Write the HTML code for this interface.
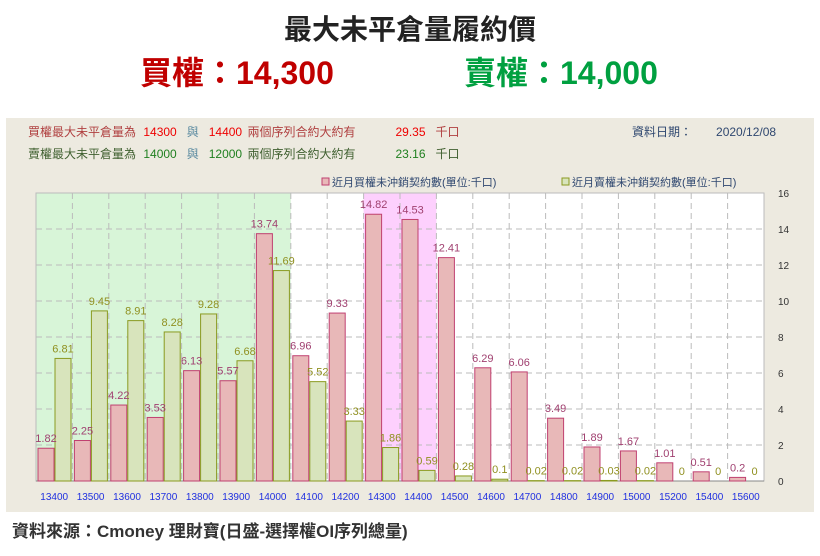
<!DOCTYPE html>
<html><head><meta charset="utf-8"><style>
body{margin:0;width:820px;height:556px;background:#fff;font-family:"Liberation Sans","Noto Sans CJK TC",sans-serif;overflow:hidden;position:relative}
.abs{position:absolute;white-space:nowrap}
</style></head><body>
<div class="abs" style="left:0;width:820px;text-align:center;top:8px;font-size:28px;font-weight:bold;color:#222">最大未平倉量履約價</div>
<div class="abs" style="left:140px;top:48px;font-size:32px;font-weight:bold;color:#c00000">買權：14,300</div>
<div class="abs" style="left:464px;top:48px;font-size:32px;font-weight:bold;color:#00a040">賣權：14,000</div>
<div class="abs" style="left:6px;top:118px;width:808px;height:394px;background:#edeae0"></div>
<div class="abs" style="left:28px;top:123px;font-size:12px;color:#b04040">買權最大未平倉量為 <span style="color:#e00;margin-left:4px">14300</span><span style="color:#5a8aa0;margin-left:10px">與</span><span style="color:#e00;margin-left:10px">14400</span> <span style="margin-left:2px">兩個序列合約大約有</span><span style="color:#e00;margin-left:40px">29.35</span><span style="margin-left:10px">千口</span></div>
<div class="abs" style="left:28px;top:145px;font-size:12px;color:#406030">賣權最大未平倉量為 <span style="color:#208020;margin-left:4px">14000</span><span style="color:#5a8aa0;margin-left:10px">與</span><span style="color:#208020;margin-left:10px">12000</span> <span style="margin-left:2px">兩個序列合約大約有</span><span style="color:#208020;margin-left:40px">23.16</span><span style="margin-left:10px">千口</span></div>
<div class="abs" style="left:632px;top:123px;font-size:12px;color:#304870">資料日期：<span style="margin-left:24px">2020/12/08</span></div>
<svg class="abs" style="left:0;top:0" width="820" height="556" id="chart"></svg>
<div class="abs" style="left:12px;top:517px;font-size:17px;font-weight:bold;color:#333">資料來源：Cmoney 理財寶(日盛-選擇權OI序列總量)</div>
<script>
const strikes=["13400","13500","13600","13700","13800","13900","14000","14100","14200","14300","14400","14500","14600","14700","14800","14900","15000","15200","15400","15600"];
const callOI=[1.82,2.25,4.22,3.53,6.13,5.57,13.74,6.96,9.33,14.82,14.53,12.41,6.29,6.06,3.49,1.89,1.67,1.01,0.51,0.2];
const putOI=[6.81,9.45,8.91,8.28,9.28,6.68,11.69,5.52,3.33,1.86,0.59,0.28,0.1,0.02,0.02,0.03,0.02,0,0,0];
const yTicks=[0,2,4,6,8,10,12,14,16];
const svg=document.getElementById('chart');const NS='http://www.w3.org/2000/svg';
const L=36,R=764,T=193,B=481,yMax=16;
const cw=(R-L)/strikes.length;
const y=v=>B-(v/yMax)*(B-T);
const xc=i=>L+i*cw;
function mk(t,a,p){const e=document.createElementNS(NS,t);for(const k in a)e.setAttribute(k,a[k]);(p||svg).appendChild(e);return e;}
mk('rect',{x:L,y:T,width:R-L,height:B-T,fill:'#fff'});
mk('rect',{x:xc(0),y:T,width:cw*7,height:B-T,fill:'#d8f5d8'});
mk('rect',{x:xc(9),y:T,width:cw*2,height:B-T,fill:'#fdd0fd'});
yTicks.forEach(t=>{
 if(t>0&&t<16){const g=mk('line',{x1:L,x2:R,y1:y(t),y2:y(t),stroke:'#bbb','stroke-dasharray':'6,4'});}
 const tx=mk('text',{x:778,y:y(t)+4,'font-size':10,fill:'#333'});tx.textContent=t;
 
});
for(let i=1;i<strikes.length;i++){mk('line',{x1:xc(i),x2:xc(i),y1:T,y2:B,stroke:'#bbb','stroke-dasharray':'6,4'});}
mk('rect',{x:L,y:T,width:R-L,height:B-T,fill:'none',stroke:'#bbb'});
mk('line',{x1:L,x2:R,y1:B,y2:B,stroke:'#888'});
strikes.forEach((s,i)=>{
 const x0=xc(i)+2;
 const cb=mk('rect',{x:x0,y:y(callOI[i]),width:16,height:B-y(callOI[i]),fill:'#e8b8b8',stroke:'#c04070','stroke-width':1});
 
 const pb=mk('rect',{x:x0+17,y:y(putOI[i]),width:16,height:B-y(putOI[i]),fill:'#d8e4bc',stroke:'#8a9a20','stroke-width':1});
 
 const cl=mk('text',{x:x0+8,y:y(callOI[i])-6,'font-size':11,fill:'#a04070','text-anchor':'middle'});cl.textContent=callOI[i];
 
 const pl=mk('text',{x:x0+25,y:y(putOI[i])-6,'font-size':11,fill:'#909020','text-anchor':'middle'});pl.textContent=putOI[i];
 
 const xl=mk('text',{x:xc(i)+cw/2,y:500,'font-size':10,fill:'#2030e0','text-anchor':'middle'});xl.textContent=s;
 
});
const lg1=mk('g',{});
mk('rect',{x:322,y:178,width:7,height:7,fill:'#e8b8b8',stroke:'#c04070'},lg1);
const t1=mk('text',{x:332,y:186,'font-size':11,fill:'#304870'},lg1);t1.textContent='近月買權未沖銷契約數(單位:千口)';
const lg2=mk('g',{});
mk('rect',{x:562,y:178,width:7,height:7,fill:'#d8e4bc',stroke:'#8a9a20'},lg2);
const t2=mk('text',{x:572,y:186,'font-size':11,fill:'#304870'},lg2);t2.textContent='近月賣權未沖銷契約數(單位:千口)';
</script>
</body></html>
